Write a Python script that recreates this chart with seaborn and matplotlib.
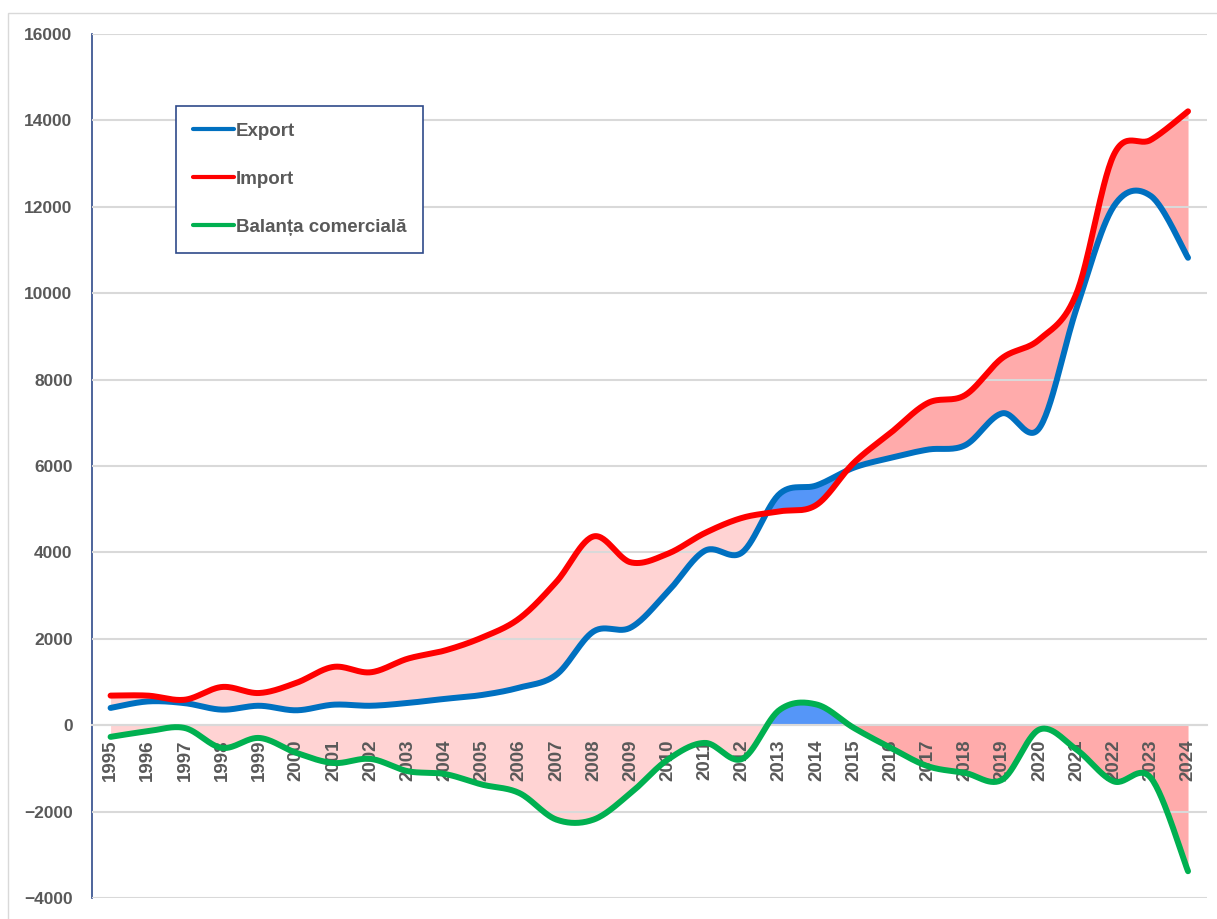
import numpy as np
import matplotlib
matplotlib.use('Agg')
import matplotlib.pyplot as plt
from matplotlib.lines import Line2D
from matplotlib.patches import Rectangle
import seaborn as sns

# =============================================================================
# Data
# =============================================================================

years = list(range(1995, 2025))
export_vals = [400, 550, 510, 360, 450, 345, 475, 450, 515, 610,
               700, 870, 1170, 2170, 2260, 3090, 4040, 4000, 5350, 5550,
               5960, 6190, 6380, 6480, 7220, 6880, 9650, 12010, 12250, 10820]
import_vals = [685, 685, 590, 885, 745, 980, 1350, 1225, 1540, 1730,
               2030, 2470, 3320, 4370, 3770, 3970, 4450, 4800, 4950, 5100,
               6070, 6770, 7460, 7640, 8500, 8930, 10000, 13200, 13550, 14210]
balance_vals = [-270, -140, -65, -525, -295, -640, -875, -780, -1065, -1130,
                -1375, -1570, -2185, -2185, -1570, -795, -410, -780, 350, 480,
                -60, -525, -950, -1105, -1260, -100, -565, -1300, -1220, -3380]
labels = ['Export', 'Import', 'Balanța comercială']

c_exp, c_imp, c_bal = '#0070C0', '#FF0000', '#00B050'
pink_light, pink_dark, blue_fill = '#FFD3D3', '#FFABAB', '#5596F8'
grey_txt = '#595959'


def smooth(x, y, n=30):
    """Excel-style smoothed line (Catmull-Rom as cubic Bezier)."""
    x = np.asarray(x, float)
    y = np.asarray(y, float)
    pts = np.c_[x, y]
    P = np.vstack([pts[0], pts, pts[-1]])
    p0, p1, p2, p3 = P[:-3], P[1:-2], P[2:-1], P[3:]
    c1 = p1 + (p2 - p0) / 6
    c2 = p2 - (p3 - p1) / 6
    t = np.linspace(0, 1, n, endpoint=False)[None, :, None]
    a, b, c, d = (p1[:, None], c1[:, None], c2[:, None], p2[:, None])
    B = ((1 - t) ** 3 * a + 3 * (1 - t) ** 2 * t * b
         + 3 * (1 - t) * t ** 2 * c + t ** 3 * d).reshape(-1, 2)
    B = np.vstack([B, pts[-1]])
    return B[:, 0], B[:, 1]


xs, ys_exp = smooth(years, export_vals)
_, ys_imp = smooth(years, import_vals)
_, ys_bal = smooth(years, balance_vals)

# =============================================================================
# Plot
# =============================================================================

sns.set_style('white')
plt.rcParams['font.family'] = ['Liberation Sans', 'DejaVu Sans']
plt.rcParams['font.weight'] = 'bold'

fig = plt.figure(figsize=(12.17, 9.19), dpi=100)
ax = fig.add_axes([92 / 1217, 1 - 898 / 919, (1206.6 - 92) / 1217, 864 / 919])

early = xs < 2013.5
late = xs > 2013.5
# gap between import and export
ax.fill_between(xs, ys_exp, ys_imp, where=(ys_imp >= ys_exp) & early,
                color=pink_light, lw=0, interpolate=True, zorder=1)
ax.fill_between(xs, ys_exp, ys_imp, where=(ys_imp >= ys_exp) & late,
                color=pink_dark, lw=0, interpolate=True, zorder=1)
ax.fill_between(xs, ys_exp, ys_imp, where=ys_exp > ys_imp,
                color=blue_fill, lw=0, interpolate=True, zorder=1)
# balance vs zero
ax.fill_between(xs, 0, ys_bal, where=(ys_bal <= 0) & early,
                color=pink_light, lw=0, interpolate=True, zorder=1)
ax.fill_between(xs, 0, ys_bal, where=(ys_bal <= 0) & late,
                color=pink_dark, lw=0, interpolate=True, zorder=1)
ax.fill_between(xs, 0, ys_bal, where=ys_bal > 0,
                color=blue_fill, lw=0, interpolate=True, zorder=1)

for yv, col in [(ys_exp, c_exp), (ys_imp, c_imp), (ys_bal, c_bal)]:
    sns.lineplot(x=xs, y=yv, ax=ax, color=col, lw=4.3, sort=False,
                 estimator=None, zorder=3, solid_capstyle='round')

ax.set_xlim(1994.5, 2024.5)
ax.set_ylim(-4000, 16000)
ax.set_yticks(range(-4000, 16001, 2000))
ax.set_xticks(years)
ax.set_xticklabels([str(y) for y in years])
ax.set_axisbelow(False)
ax.yaxis.grid(True, color='#D9D9D9', lw=1.5)
ax.xaxis.grid(False)

for s in ['top', 'right']:
    ax.spines[s].set_visible(False)
ax.spines['left'].set_color('#2F4A8A')
ax.spines['left'].set_linewidth(1.2)
ax.spines['bottom'].set_position(('data', 0))
ax.spines['bottom'].set_color('#D9D9D9')
ax.spines['bottom'].set_linewidth(1.5)

ax.tick_params(axis='x', length=0, pad=10, labelrotation=90, labelsize=13.5,
               colors=grey_txt)
ax.tick_params(axis='y', length=0, pad=14, labelsize=12.5, colors=grey_txt)
for lab in ax.get_xticklabels() + ax.get_yticklabels():
    lab.set_fontweight('bold')
ax.set_xlabel('')
ax.set_ylabel('')

handles = [Line2D([], [], color=c, lw=3, solid_capstyle='round')
           for c in (c_exp, c_imp, c_bal)]
leg = ax.legend(handles, labels, loc='upper left',
                bbox_to_anchor=(176 / 1217, 1 - 105.7 / 919),
                bbox_transform=fig.transFigure, borderaxespad=0,
                fontsize=13.5, handlelength=2.2, handletextpad=0.1,
                labelspacing=1.65, borderpad=0.9, fancybox=False,
                framealpha=1, edgecolor='#2F4A8A')
leg.get_frame().set_linewidth(1.2)
for t in leg.get_texts():
    t.set_color(grey_txt)
    t.set_fontweight('bold')

# outer chart border
fig.add_artist(Rectangle((8 / 1217, -0.05), 1.2, 1 - 13 / 919 + 0.05,
                         transform=fig.transFigure, fill=False,
                         ec='#D9D9D9', lw=1))

plt.savefig('out.png', dpi=100)
